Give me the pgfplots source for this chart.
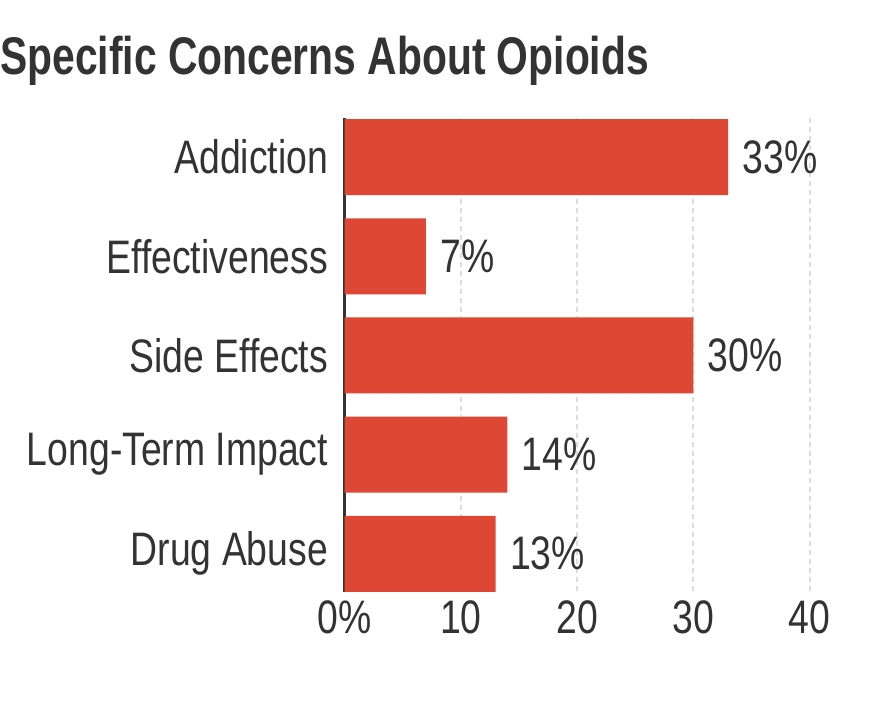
\documentclass[border=0pt]{standalone}
\usepackage{pgfplots}
\pgfplotsset{compat=1.18}
\usepackage{fontspec}
\setmainfont{Liberation Sans}[FakeStretch=0.77]
\newfontfamily\labelfont{Liberation Sans}[FakeStretch=0.795]
\definecolor{cText}{HTML}{333333}
\definecolor{cBar}{HTML}{DD4733}
\definecolor{cGrid}{HTML}{DDDDDD}
\begin{document}
\begin{tikzpicture}
\useasboundingbox (0,0) rectangle (440pt,355pt);
% title
\node[anchor=base west, inner sep=0pt, text=cText, font=\fontsize{26.5}{30}\selectfont\bfseries]
  at (0pt,317.5pt) {Specific Concerns About Opioids};
\begin{axis}[
  at={(172.3pt,58.75pt)}, anchor=south west,
  scale only axis,
  width=232.5pt, height=237pt,
  xbar, bar width=38pt,
  y dir=reverse,
  xmin=0, xmax=40,
  ymin=-0.39, ymax=4.39,
  axis lines*=left,
  axis line style={-},
  x axis line style={draw=none},
  y axis line style={draw=cText, line width=1.2pt},
  tick style={draw=none},
  xtick={0,10,20,30,40},
  xticklabels={0\%,10,20,30,40},
  ytick={0,1,2,3,4},
  yticklabels={Addiction,Effectiveness,Side Effects,Long-Term Impact,Drug Abuse},
  xmajorgrids,
  grid style={cGrid, line width=1pt, dash pattern=on 2.5pt off 2pt},
  /pgf/number format/assume math mode=true,
  tick label style={font=\labelfont\fontsize{23.5}{26}\selectfont, text=cText, inner sep=0pt},
  xticklabel style={yshift=-4pt},
  yticklabel style={xshift=-3.8pt},
  nodes near coords={\pgfmathprintnumber{\pgfplotspointmeta}\%},
  every node near coord/.append style={font=\labelfont\fontsize{23.5}{26}\selectfont, text=cText,
    anchor=west, inner sep=0pt, xshift=7pt},
]
\addplot[fill=cBar, draw=none] coordinates {
  (33,0) (7,1) (30,2) (14,3) (13,4)
};
\end{axis}
\end{tikzpicture}
\end{document}
